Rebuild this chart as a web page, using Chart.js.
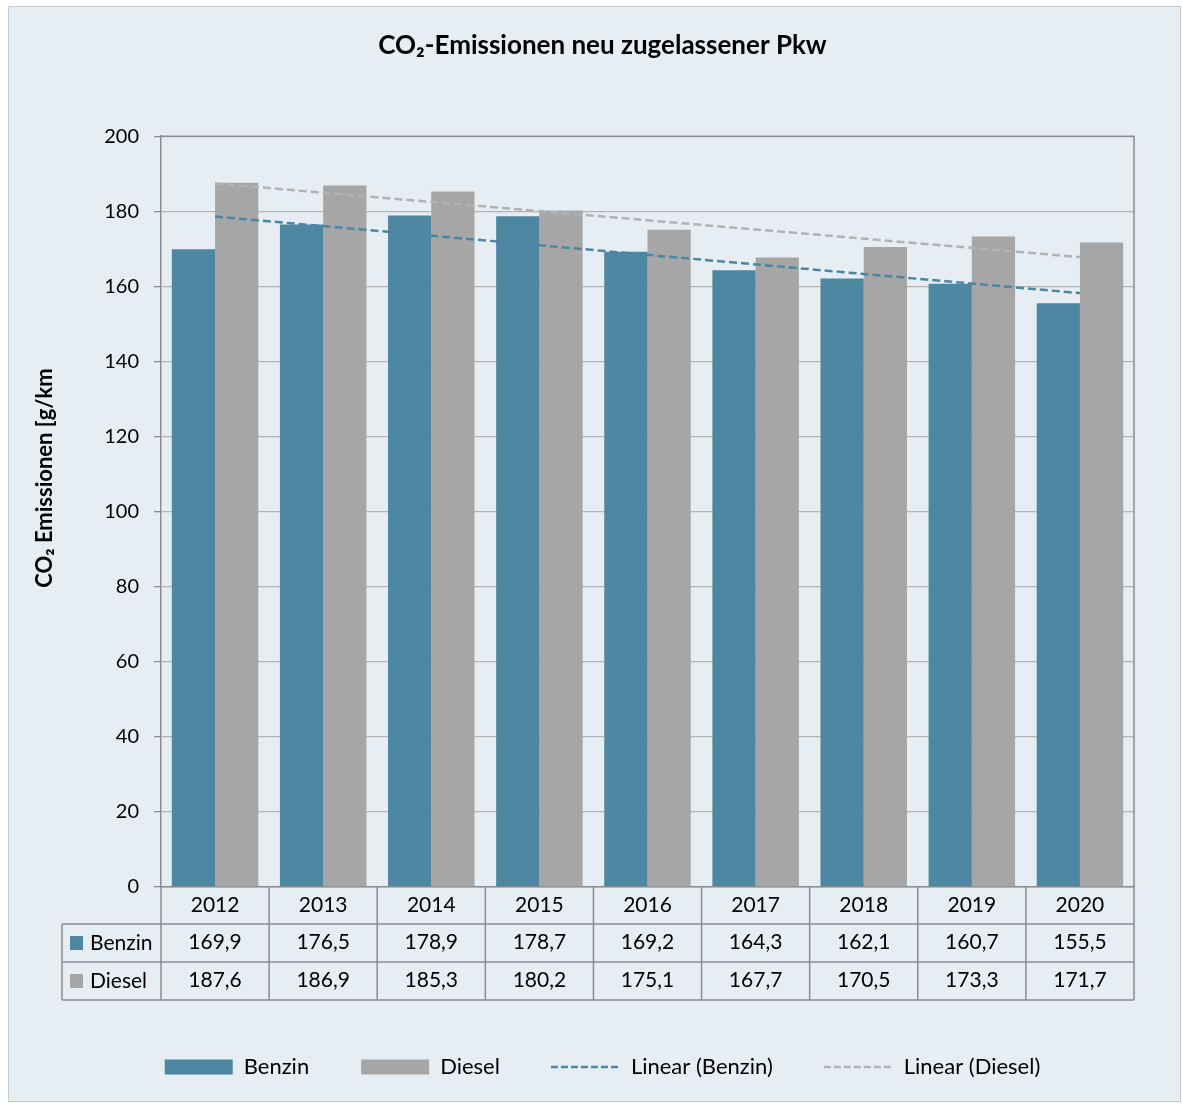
<!DOCTYPE html>
<html>
<head>
<meta charset="utf-8">
<title>CO2-Emissionen neu zugelassener Pkw</title>
<script src="https://cdn.jsdelivr.net/npm/chart.js@4.4.1/dist/chart.umd.min.js"></script>
<style>
    html, body { margin: 0; padding: 0; background: #fff; }
    #box {
        position: absolute; left: 8px; top: 6px;
        width: 1171px; height: 1094px;
        border: 1px solid #c8c8c8;
        background: #e6eef3;
    }
    canvas { display: block; }
</style>
</head>
<body>
<div id="box"><canvas id="co2Chart" width="1171" height="1094"></canvas></div>
<script>
// --- Daten ---
const years = ['2012', '2013', '2014', '2015', '2016', '2017', '2018', '2019', '2020'];
const benzin = [169.9, 176.5, 178.9, 178.7, 169.2, 164.3, 162.1, 160.7, 155.5];
const diesel = [187.6, 186.9, 185.3, 180.2, 175.1, 167.7, 170.5, 173.3, 171.7];
// Trendlinien: nur Anfangs- und Endwert
const trendBenzin = [178.6, null, null, null, null, null, null, null, 158.2];
const trendDiesel = [187.4, null, null, null, null, null, null, null, 167.8];
const yTickValues = [0, 20, 40, 60, 80, 100, 120, 140, 160, 180, 200];

const BLUE = '#4e87a2';
const GREY = '#a6a6a6';
const TREND_BLUE = '#4a87a5';
const TREND_GREY = '#b2b2b2';
const LINE_GREY = '#8c8c8c';
const FONT = 'Lato, "DejaVu Sans", sans-serif';

Chart.defaults.font.family = FONT;
Chart.defaults.color = '#000';

const fmt = v => v.toFixed(1).replace('.', ',');

// kleines gestricheltes Linien-Symbol für die Legende
function dashSymbol(color) {
    const c = document.createElement('canvas');
    c.width = 70;
    c.height = 6;
    const g = c.getContext('2d');
    g.strokeStyle = color;
    g.lineWidth = 2.5;
    g.setLineDash([7, 3]);
    g.beginPath();
    g.moveTo(0, 3);
    g.lineTo(70, 3);
    g.stroke();
    return c;
}

// Zeichnet Rahmen, Datentabelle (Linien + Zeilenköpfe) und Achsentitel
const tablePlugin = {
    id: 'dataTable',
    afterDraw(chart) {
        const { ctx, chartArea: a } = chart;
        const n = years.length;
        const step = (a.right - a.left) / n;
        const rows = [a.bottom + 37, a.bottom + 75, a.bottom + 113];
        const tableLeft = a.left - 99;

        ctx.save();
        // Rahmen oben/rechts
        ctx.strokeStyle = LINE_GREY;
        ctx.lineWidth = 1.5;
        ctx.beginPath();
        ctx.moveTo(a.left, a.top);
        ctx.lineTo(a.right, a.top);
        ctx.lineTo(a.right, a.bottom);
        ctx.stroke();

        // Tabellenlinien
        ctx.beginPath();
        for (let i = 0; i <= n; i++) {
            const x = a.left + i * step;
            ctx.moveTo(x, a.bottom);
            ctx.lineTo(x, rows[2]);
        }
        ctx.moveTo(tableLeft, rows[0]);
        ctx.lineTo(tableLeft, rows[2]);
        rows.forEach(y => {
            ctx.moveTo(tableLeft, y);
            ctx.lineTo(a.right, y);
        });
        ctx.stroke();

        // Zeilenköpfe
        const heads = [['Benzin', BLUE], ['Diesel', GREY]];
        ctx.font = '21px ' + FONT;
        ctx.textBaseline = 'middle';
        ctx.textAlign = 'left';
        heads.forEach(([label, color], i) => {
            const cy = (rows[i] + rows[i + 1]) / 2;
            ctx.fillStyle = color;
            ctx.fillRect(tableLeft + 8, cy - 7, 13, 14);
            ctx.fillStyle = '#000';
            ctx.fillText(label, tableLeft + 28, cy);
        });

        // Y-Achsentitel
        ctx.translate(36, 471);
        ctx.rotate(-Math.PI / 2);
        ctx.font = 'bold 22px ' + FONT;
        ctx.textAlign = 'center';
        ctx.fillText('CO₂ Emissionen [g/km', 0, 0);
        ctx.restore();
    }
};

const ctx = document.getElementById('co2Chart').getContext('2d');

new Chart(ctx, {
    type: 'bar',
    data: {
        labels: years,
        datasets: [
            {
                label: 'Benzin',
                data: benzin,
                backgroundColor: BLUE,
                borderWidth: 0,
                categoryPercentage: 0.8,
                barPercentage: 1.0,
                order: 1
            },
            {
                label: 'Diesel',
                data: diesel,
                backgroundColor: GREY,
                borderWidth: 0,
                categoryPercentage: 0.8,
                barPercentage: 1.0,
                order: 1
            },
            {
                type: 'line',
                label: 'Linear (Benzin)',
                data: trendBenzin,
                borderColor: TREND_BLUE,
                backgroundColor: TREND_BLUE,
                borderWidth: 2.5,
                borderDash: [8, 4],
                pointRadius: 0,
                spanGaps: true,
                fill: false,
                order: 0
            },
            {
                type: 'line',
                label: 'Linear (Diesel)',
                data: trendDiesel,
                borderColor: TREND_GREY,
                backgroundColor: TREND_GREY,
                borderWidth: 2.5,
                borderDash: [8, 4],
                pointRadius: 0,
                spanGaps: true,
                fill: false,
                order: 0
            }
        ]
    },
    options: {
        responsive: false,
        animation: false,
        events: [],
        layout: { padding: { left: 62, right: 46, top: 0, bottom: 13 } },
        scales: {
            x: {
                grid: { display: false },
                border: { color: LINE_GREY, width: 1.5 },
                ticks: {
                    font: { size: 21, lineHeight: 1.786 },
                    padding: -9,
                    maxRotation: 0,
                    autoSkip: false,
                    callback: (v, i) => [years[i], fmt(benzin[i]), fmt(diesel[i])]
                },
                afterFit: scale => { scale.height = 117; }
            },
            y: {
                min: 0,
                max: 200,
                afterBuildTicks: scale => { scale.ticks = yTickValues.map(v => ({ value: v })); },
                grid: { color: '#b4b4b4', lineWidth: 1.3, tickLength: 7, tickColor: LINE_GREY },
                border: { color: LINE_GREY, width: 1.5 },
                ticks: { font: { size: 20 }, padding: 15 },
                afterFit: scale => { scale.width = 90; }
            }
        },
        plugins: {
            title: {
                display: true,
                text: 'CO₂-Emissionen neu zugelassener Pkw',
                font: { size: 26, weight: 'bold' },
                color: '#000',
                padding: { top: 23, bottom: 75 }
            },
            legend: {
                position: 'bottom',
                labels: {
                    usePointStyle: true,
                    pointStyleWidth: 68,
                    boxHeight: 15,
                    padding: 52,
                    font: { size: 22 },
                    color: '#000',
                    sort: (a, b) => a.datasetIndex - b.datasetIndex,
                    generateLabels(chart) {
                        const items = Chart.defaults.plugins.legend.labels.generateLabels(chart);
                        items.forEach(item => {
                            const ds = chart.data.datasets[item.datasetIndex];
                            item.pointStyle = ds.type === 'line' ? dashSymbol(ds.borderColor) : 'rect';
                        });
                        return items;
                    }
                }
            },
            tooltip: { enabled: false }
        }
    },
    plugins: [tablePlugin]
});
</script>
</body>
</html>
